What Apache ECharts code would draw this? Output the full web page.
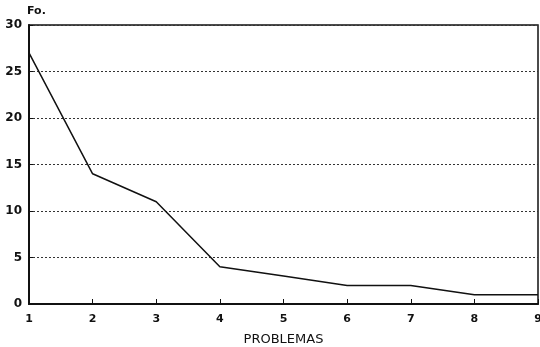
<!DOCTYPE html>
<html>
<head>
<meta charset="utf-8">
<script src="https://cdn.jsdelivr.net/npm/echarts@6/dist/echarts.min.js"></script>
<style>
  html, body { margin: 0; padding: 0; background: #fff; }
  #chart { width: 540px; height: 347px; }
</style>
</head>
<body>
<div id="chart"></div>
<script>
// problem categories and frequencies (Fo.)
const categories = ['1', '2', '3', '4', '5', '6', '7', '8', '9']
const frequencies = [27, 14, 11, 4, 3, 2, 2, 1, 1]

const chart = echarts.init(document.getElementById('chart'))
const font = 'DejaVu Sans'

chart.setOption({
  animation: false,
  backgroundColor: '#fff',
  grid: {
    left: 29,
    right: 2,
    top: 25,
    bottom: 43,
    outerBoundsMode: 'none',
    show: true,
    borderColor: '#111',
    borderWidth: 1.5
  },
  xAxis: {
    type: 'category',
    data: categories,
    boundaryGap: false,
    name: 'PROBLEMAS',
    nameLocation: 'middle',
    nameGap: 29,
    nameTextStyle: { color: '#111', fontFamily: font, fontSize: 13 },
    axisLine: { lineStyle: { color: '#111', width: 2 } },
    axisTick: { inside: true, length: 5, lineStyle: { color: '#111' } },
    axisLabel: { color: '#111', fontFamily: font, fontWeight: 'bold', fontSize: 11, margin: 10 }
  },
  yAxis: {
    type: 'value',
    min: 0,
    max: 30,
    interval: 5,
    name: 'Fo.',
    nameLocation: 'end',
    nameGap: 8,
    nameTextStyle: { color: '#111', fontFamily: font, fontWeight: 'bold', fontSize: 11, align: 'left', padding: [0, 0, 0, -2] },
    axisLine: { show: true, lineStyle: { color: '#111', width: 2 } },
    axisTick: { show: true, inside: true, length: 4, lineStyle: { color: '#111' } },
    axisLabel: { color: '#111', fontFamily: font, fontWeight: 'bold', fontSize: 12, margin: 7 },
    splitLine: { lineStyle: { color: '#333', type: [2, 2], width: 1 } }
  },
  series: [
    {
      type: 'line',
      data: frequencies,
      symbol: 'none',
      lineStyle: { color: '#111', width: 1.5 }
    }
  ]
})
</script>
</body>
</html>
